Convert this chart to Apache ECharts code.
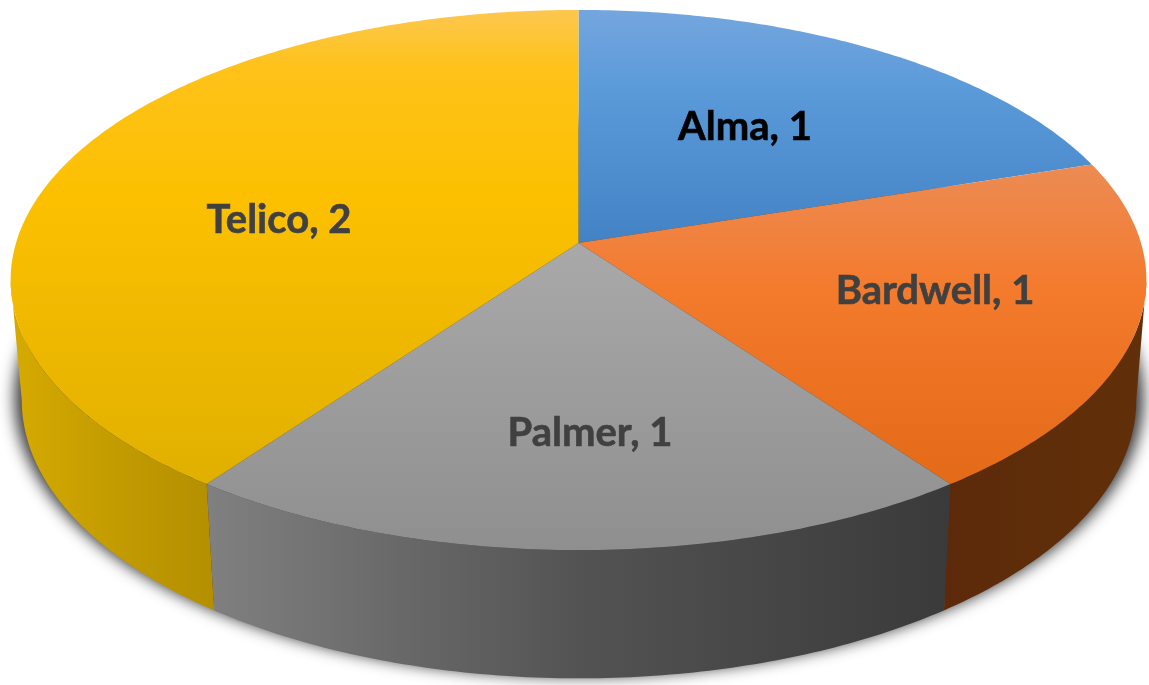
<!DOCTYPE html>
<html><head><meta charset="utf-8">
<style>html,body{margin:0;padding:0;background:#fff}#c{width:1149px;height:685px}</style>
<script src="https://cdn.jsdelivr.net/npm/echarts@6/dist/echarts.min.js"></script>
</head><body><div id="c"></div>
<script>
const categories = ['Alma', 'Bardwell', 'Palmer', 'Telico'];
const values = [1, 1, 1, 2];

// Appearance
const topStops = [
  [[0,'#74a6de'],[0.35,'#5a9ad9'],[1,'#4383c5']],
  [[0,'#ec8b54'],[0.4,'#f47a2c'],[1,'#e36a17']],
  [[0,'#a9a9a9'],[1,'#8f8f8f']],
  [[0,'#fdc750'],[0.12,'#fec21a'],[0.4,'#fcc000'],[1,'#e0b000']]
];
const wallStops = [
  [[0,'#2f5c8c'],[1,'#2a5580']],
  [[0,'#5c2a0a'],[1,'#613009']],
  [[0,'#808080'],[0.5,'#535353'],[1,'#3a3a3a']],
  [[0,'#d6aa00'],[0.5,'#c39c00'],[1,'#b48f00']]
];
const labelColors = ['#000000', '#404040', '#404040', '#404040'];
const labelAnchors = [[745,127],[935,291],[590,433],[279,220]];

// Tilted disc: perspective projection of the pie's circle
const K = 0.137;
const topFace = {cx:578.5, cy:243, ax:562.5, by:265};
const baseFace = {cx:579, cy:362, ax:552, by:273};
const FRONT_START = Math.acos(-K), FRONT_END = 2 * Math.PI - FRONT_START;
function project(f, a, r) {
  const s = Math.sin(a) * r, c = Math.cos(a) * r, w = 1 + K * c;
  return [f.cx + f.ax * s / w, f.cy - f.by * c / w];
}
function arc(f, a0, a1) {
  const n = Math.max(2, Math.ceil((a1 - a0) * 80)), pts = [];
  for (let i = 0; i <= n; i++) pts.push(project(f, a0 + (a1 - a0) * i / n, 1));
  return pts;
}
const total = values.reduce((a, b) => a + b, 0);
function angles(idx) {
  let sum = 0;
  for (let i = 0; i < idx; i++) sum += values[i];
  return [sum / total * 2 * Math.PI, (sum + values[idx]) / total * 2 * Math.PI];
}
function grad(x0, y0, x1, y1, stops) {
  return new echarts.graphic.LinearGradient(x0, y0, x1, y1,
    stops.map(s => ({offset:s[0], color:s[1]})));
}
const data = categories.map((n, i) => ({name:n, value:values[i]}));

const chart = echarts.init(document.getElementById('c'), null, {renderer:'canvas'});
chart.setOption({
  backgroundColor:'#ffffff',
  animation:false,
  tooltip:{show:false},
  series:[
    { // soft shadow under the disc: the caster sits off-canvas, only its shadow shows
      type:'custom', coordinateSystem:'none', z:1, silent:true,
      data:[{name:'shadow', value:total}],
      renderItem(){
        const OFF = 3000;
        const f = Object.assign({}, baseFace, {cx:baseFace.cx - OFF, ax:baseFace.ax + 7, cy:baseFace.cy - 2});
        return {type:'polygon', shape:{points:arc(f, 0, 2 * Math.PI)},
          style:{fill:'#000', shadowBlur:15, shadowColor:'rgba(0,0,0,0.78)', shadowOffsetX:OFF, shadowOffsetY:0}};
      }
    },
    { // side walls (front-facing part only)
      type:'custom', coordinateSystem:'none', z:2, silent:true, data:data,
      renderItem(params){
        const i = params.dataIndex, [s, e] = angles(i);
        const a0 = Math.max(s, FRONT_START), a1 = Math.min(e, FRONT_END);
        if (a1 <= a0) return null;
        const pts = arc(topFace, a0, a1).concat(arc(baseFace, a0, a1).reverse());
        return {type:'polygon', shape:{points:pts}, style:{fill:grad(0,0,1,0,wallStops[i])}};
      }
    },
    { // top face and labels
      type:'custom', coordinateSystem:'none', z:3, silent:true, data:data,
      renderItem(params){
        const i = params.dataIndex, [a0, a1] = angles(i);
        const pts = [project(topFace, 0, 0)].concat(arc(topFace, a0, a1));
        return {type:'group', children:[
          {type:'polygon', shape:{points:pts}, style:{fill:grad(0,0,0,1,topStops[i])}},
          {type:'text', z2:10, x:labelAnchors[i][0], y:labelAnchors[i][1],
           style:{text:categories[i] + ', ' + values[i], fill:labelColors[i],
             stroke:labelColors[i], lineWidth:0.6,
             font:'bold 40px Lato, sans-serif', align:'center', verticalAlign:'middle'}}
        ]};
      }
    }
  ]
});
</script></body></html>
